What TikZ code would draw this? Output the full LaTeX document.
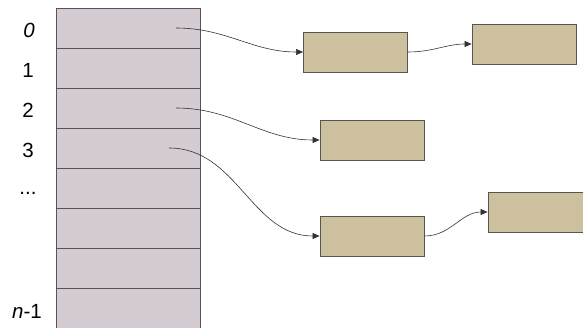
\documentclass[tikz,border=0pt]{standalone}
\usepackage{fontspec}
\setmainfont{Liberation Sans}
\usetikzlibrary{arrows.meta}
\definecolor{cellfill}{HTML}{D4CBD3}
\definecolor{boxfill}{HTML}{CDC09F}
\definecolor{edge}{HTML}{555555}
\definecolor{arr}{HTML}{333333}
\tikzset{
  cell/.style={draw=edge, line width=0.7pt, fill=cellfill, minimum width=144pt, minimum height=40pt, inner sep=0pt, outer sep=0pt},
  item/.style={draw=edge, line width=0.9pt, fill=boxfill, minimum width=104pt, minimum height=40pt, inner sep=0pt},
  idx/.style={font=\fontsize{20.5}{22}\selectfont, inner sep=0pt},
  link/.style={draw=arr, line width=0.6pt, -{Triangle[length=7pt,width=6pt]}, out=0, in=180}
}
\begin{document}
\begin{tikzpicture}[x=1pt,y=-1pt]
\useasboundingbox (0,0) rectangle (583,328);
\foreach \i in {0,...,7}{
  \node[cell] (r\i) at (128,{28+40*\i}) {};
}
\node[idx] (l0) at (29,30) {\itshape 0};
\node[idx] (l1) at (28,70) {1};
\node[idx] (l2) at (28,110) {2};
\node[idx] (l3) at (28,150) {3};
\node[idx] (l4) at (28,193) {...};
\node[idx] (l7) at (27,311) {\itshape n\upshape -1};

\node[item] (a) at (355.5,52) {};
\node[item] (b) at (524,44) {};
\node[item] (c) at (372,140) {};
\node[item] (d) at (372,236) {};
\node[item] (e) at (540,212) {};

\coordinate (s0) at (176,28);
\coordinate (s2) at (176,108);
\coordinate (s3) at (169,148);

\draw[link] (s0) to (a.west);
\draw[link] (a.east) to (b.west);
\draw[link] (s2) to (c.west);
\draw[link] (s3) to (d.west);
\draw[link] (d.east) to (e.west);
\end{tikzpicture}
\end{document}
